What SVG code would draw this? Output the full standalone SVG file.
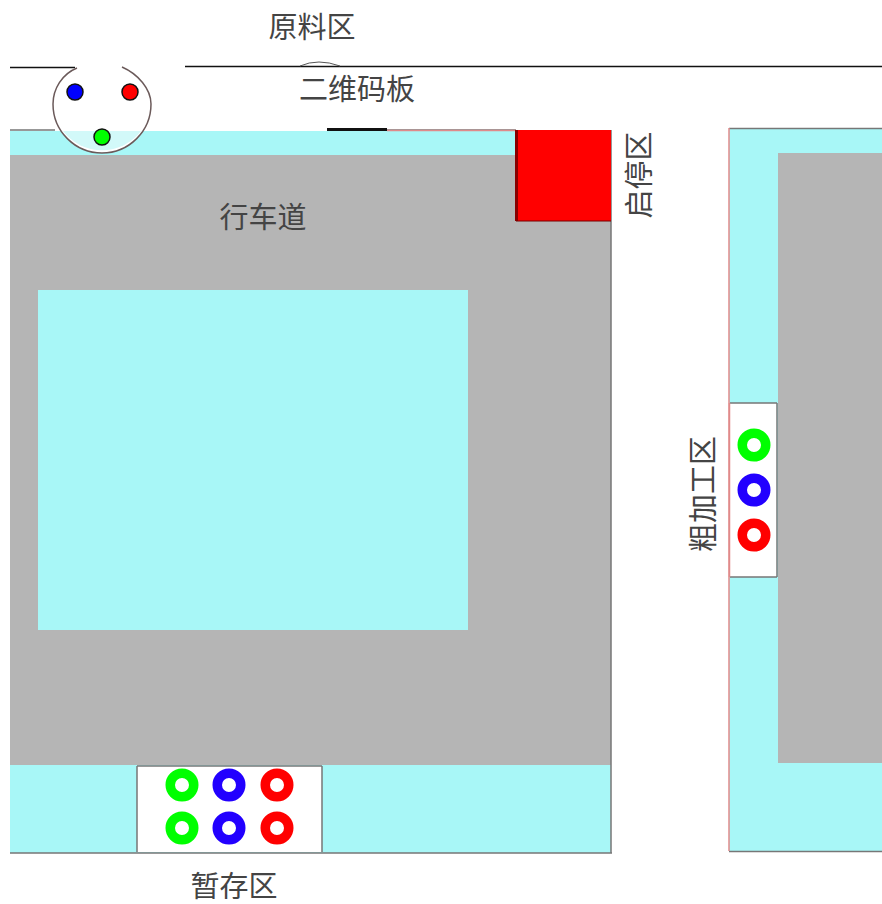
<svg xmlns="http://www.w3.org/2000/svg" width="882" height="904" viewBox="0 0 882 904">
<style>
.t{font-family:"Noto Sans CJK SC","Noto Sans",sans-serif;font-size:29px;fill:#444;text-anchor:middle;dominant-baseline:central}
.c{fill:#a8f7f7}.g{fill:#b5b5b5}
.e{fill:none;stroke:#777;stroke-width:1.5}
.p{fill:none;stroke:#e08a8a;stroke-width:1.5}
.k{fill:none;stroke:#111;stroke-width:1.5}
.w{fill:#fff}
.r{fill:none;stroke-width:9.5}
.b{stroke:#111;stroke-width:1.5}
</style>
<rect width="882" height="904" fill="#fff"/>
<g id="track-left">
<rect class="c" x="10" y="131" width="601" height="722"/>
<rect class="g" x="10" y="155" width="601" height="610"/>
<rect class="c" x="38" y="290" width="430" height="340"/>
<path class="e" d="M10 130H55M387 130H516M611 130V853M10 853H612"/>
<path class="p" d="M387 130.500H516"/>
</g>
<g id="start-zone">
<rect x="516" y="130" width="95" height="91" fill="#f00"/>
<path d="M516.500 130V221" stroke="#800" stroke-width="3" fill="none"/>
<path d="M516 221H611" stroke="#700" stroke-width="1" fill="none"/>
<text class="t" transform="translate(637 175) rotate(-90)">启停区</text>
</g>
<g id="track-right">
<rect class="c" x="729" y="129" width="153" height="722"/>
<rect class="g" x="778" y="153" width="104" height="610"/>
<path class="e" d="M729 128.500H882M729 851.500H882"/>
<path class="p" d="M729 128V851"/>
</g>
<g id="buffer-zone">
<rect class="w" x="137" y="766" width="185" height="86"/>
<path class="e" d="M137 766V852M322 766V852M137 766H322"/>
<circle class="r" cx="182" cy="785" r="11.750" stroke="#0f0"/>
<circle class="r" cx="229" cy="785" r="11.750" stroke="#20f"/>
<circle class="r" cx="277" cy="785" r="11.750" stroke="#f00"/>
<circle class="r" cx="182" cy="828" r="11.750" stroke="#0f0"/>
<circle class="r" cx="229" cy="828" r="11.750" stroke="#20f"/>
<circle class="r" cx="277" cy="828" r="11.750" stroke="#f00"/>
<text class="t" x="234" y="884">暂存区</text>
</g>
<g id="rough-zone">
<rect class="w" x="730" y="403" width="47" height="174"/>
<path class="e" d="M730 403H777M730 577H777M777 403V577"/>
<path class="p" d="M729.500 403V577"/>
<circle class="r" cx="754" cy="445" r="11.750" stroke="#0f0"/>
<circle class="r" cx="754" cy="490" r="11.750" stroke="#20f"/>
<circle class="r" cx="754" cy="535" r="11.750" stroke="#f00"/>
<text class="t" transform="translate(701 494) rotate(-90)">粗加工区</text>
</g>
<g id="lines">
<path class="k" d="M10 67.500H75M185 66.500H882"/>
<path d="M327 129.500H387" stroke="#111" stroke-width="3" fill="none"/>
<path d="M300 66Q318 58 340 66" stroke="#555" stroke-width="1" fill="none"/>
</g>
<g id="robot">
<path d="M77 68C62 74 53 89 53 104A49 49 0 0 0 151 104C151 89 138 74 122 67Z" fill="#fff" stroke="none"/>
<path d="M63 131A49 49 0 0 0 141 131Z" fill="#d2f9f9"/>
<path d="M77 68C62 74 53 89 53 104A49 49 0 0 0 151 104C151 89 138 74 122 67" fill="none" stroke="#6b5a5a" stroke-width="1.500"/>
<circle class="b" cx="75" cy="92" r="8" fill="#00f"/>
<circle class="b" cx="130" cy="92" r="8" fill="#f00"/>
<circle class="b" cx="102" cy="137" r="8" fill="#0f0"/>
</g>
<g id="labels">
<text class="t" x="312" y="25">原料区</text>
<text class="t" x="357" y="87">二维码板</text>
<text class="t" x="263" y="215">行车道</text>
</g>
</svg>
